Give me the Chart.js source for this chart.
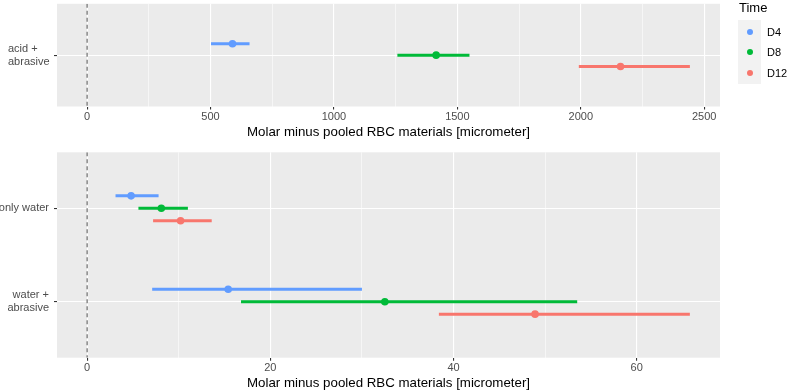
<!DOCTYPE html>
<html>
<head>
<meta charset="utf-8">
<script src="https://cdn.jsdelivr.net/npm/chart.js@4"></script>
<style>
  body { margin: 0; width: 788px; height: 392px; background: #fff; position: relative; overflow: hidden;
         font-family: "Liberation Sans", Arial, sans-serif; }
  canvas { position: absolute; left: 0; }
  #legendTitle { position: absolute; left: 739px; top: 0; font-size: 13px; line-height: 16px; color: #000; }
  #legendKeys { position: absolute; left: 738px; top: 20px; width: 23px; height: 64px; background: #F2F2F2; }
  .key { position: absolute; width: 6px; height: 6px; border-radius: 50%; left: 9px; }
  .keyLabel { position: absolute; left: 767px; font-size: 11px; line-height: 14px; color: #000; }
</style>
</head>
<body>
<canvas id="topChart" width="788" height="140" style="top:0"></canvas>
<canvas id="bottomChart" width="788" height="251" style="top:140px"></canvas>
<div id="legendTitle">Time</div>
<div id="legendKeys"></div>
<script>
// 시간 그룹과 색상
const timeLabels = ['D4', 'D8', 'D12'];
const timeColors = ['#619CFF', '#00BA38', '#F8766D'];

// 위쪽 패널: acid + abrasive (값은 시간별, 범주별)
const topCategories = [['acid +', 'abrasive']];
const topMean  = [[589], [1414], [2161]];
const topLower = [[502], [1257], [1992]];
const topUpper = [[658], [1549], [2442]];
const topMajorTicks = [0, 500, 1000, 1500, 2000, 2500];
const topMinorTicks = [250, 750, 1250, 1750, 2250];
const topRange = [-122, 2564];

// 아래쪽 패널: only water, water + abrasive
const bottomCategories = ['only water', ['water +', 'abrasive']];
const bottomMean  = [[4.8, 15.4], [8.1, 32.5], [10.2, 48.9]];
const bottomLower = [[3.1, 7.1], [5.6, 16.8], [7.2, 38.4]];
const bottomUpper = [[7.8, 30.0], [11.0, 53.5], [13.6, 65.8]];
const bottomMajorTicks = [0, 20, 40, 60];
const bottomMinorTicks = [10, 30, 50];
const bottomRange = [-3.29, 69.09];

const xTitle = 'Molar minus pooled RBC materials [micrometer]';
const dodge = 0.4 / 3; // position_dodge 간격

// 패널 배경, 0 기준 점선, 오차 막대
const panelPlugin = {
    id: 'panel',
    beforeDraw(chart) {
        const { ctx, chartArea: a } = chart;
        ctx.save();
        ctx.fillStyle = '#EBEBEB';
        ctx.fillRect(a.left, a.top, a.right - a.left, a.bottom - a.top);
        ctx.restore();
    },
    beforeDatasetsDraw(chart) {
        const { ctx, chartArea: a, scales: { x, y } } = chart;
        ctx.save();
        ctx.beginPath();
        ctx.rect(a.left, a.top, a.right - a.left, a.bottom - a.top);
        ctx.clip();
        // 0 위치 점선
        const x0 = x.getPixelForValue(0);
        ctx.strokeStyle = '#777';
        ctx.lineWidth = 1.3;
        ctx.setLineDash([4, 3]);
        ctx.beginPath();
        ctx.moveTo(x0, a.top);
        ctx.lineTo(x0, a.bottom);
        ctx.stroke();
        ctx.setLineDash([]);
        // 오차 막대
        chart.data.datasets.forEach(ds => {
            ctx.strokeStyle = ds.backgroundColor;
            ctx.lineWidth = 3;
            ds.data.forEach(p => {
                const py = y.getPixelForValue(p.y);
                ctx.beginPath();
                ctx.moveTo(x.getPixelForValue(p.lo), py);
                ctx.lineTo(x.getPixelForValue(p.hi), py);
                ctx.stroke();
            });
        });
        ctx.restore();
    }
};

function buildDatasets(mean, lower, upper) {
    return timeLabels.map((label, t) => ({
        label: label,
        data: mean[t].map((m, c) => ({
            x: m,
            y: c + 1 + (t - 1) * dodge,
            lo: lower[t][c],
            hi: upper[t][c]
        })),
        backgroundColor: timeColors[t],
        borderColor: timeColors[t],
        pointRadius: 3.8,
        pointBorderWidth: 0,
        pointHoverRadius: 3.8
    }));
}

// 축 라벨 때문에 생기는 여백 제거
function noScalePadding(s) {
    s.paddingTop = 0;
    s.paddingBottom = 0;
    s.paddingLeft = 0;
    s.paddingRight = 0;
}

function makeChart(id, cfg) {
    const ctx = document.getElementById(id).getContext('2d');
    const xTicks = cfg.major.concat(cfg.minor).sort((a, b) => a - b);
    const isMajor = v => cfg.major.includes(v);
    return new Chart(ctx, {
        type: 'scatter',
        data: { datasets: buildDatasets(cfg.mean, cfg.lower, cfg.upper) },
        options: {
            responsive: false,
            animation: false,
            layout: { padding: { left: cfg.padLeft, right: 68, top: cfg.padTop, bottom: 0 } },
            plugins: { legend: { display: false }, tooltip: { enabled: false } },
            scales: {
                x: {
                    type: 'linear',
                    min: cfg.range[0],
                    max: cfg.range[1],
                    afterBuildTicks: s => { s.ticks = xTicks.map(v => ({ value: v })); },
                    afterFit: s => { s.height = cfg.xHeight; noScalePadding(s); },
                    border: { display: false },
                    grid: {
                        color: '#ffffff',
                        lineWidth: c => (c.tick && isMajor(c.tick.value)) ? 1.1 : 0.55,
                        tickColor: c => (c.tick && isMajor(c.tick.value)) ? '#333333' : 'rgba(0,0,0,0)',
                        tickLength: 3
                    },
                    ticks: {
                        autoSkip: false,
                        maxRotation: 0,
                        padding: 1,
                        color: '#4D4D4D',
                        font: { family: '"Liberation Sans", Arial, sans-serif', size: 11 },
                        callback: v => isMajor(v) ? String(v) : ''
                    },
                    title: {
                        display: true,
                        text: xTitle,
                        color: '#000000',
                        font: { family: '"Liberation Sans", Arial, sans-serif', size: 13.3 },
                        padding: { top: 0, bottom: 0 }
                    }
                },
                y: {
                    type: 'linear',
                    reverse: true,
                    min: 0.4,
                    max: cfg.categories.length + 0.6,
                    afterBuildTicks: s => { s.ticks = cfg.categories.map((c, i) => ({ value: i + 1 })); },
                    afterFit: s => { s.width = 57 - cfg.padLeft; noScalePadding(s); },
                    border: { display: false },
                    grid: { color: '#ffffff', lineWidth: 1.1, tickColor: '#333333', tickLength: 3 },
                    ticks: {
                        autoSkip: false,
                        crossAlign: cfg.crossAlign,
                        padding: 5,
                        color: '#4D4D4D',
                        font: { family: '"Liberation Sans", Arial, sans-serif', size: 11, lineHeight: 1.2 },
                        callback: v => cfg.categories[Math.round(v) - 1]
                    }
                }
            }
        },
        plugins: [panelPlugin]
    });
}

makeChart('topChart', {
    mean: topMean, lower: topLower, upper: topUpper,
    categories: topCategories, major: topMajorTicks, minor: topMinorTicks,
    range: topRange, padLeft: 8, padTop: 3, xHeight: 33.5, crossAlign: 'far'
});

makeChart('bottomChart', {
    mean: bottomMean, lower: bottomLower, upper: bottomUpper,
    categories: bottomCategories, major: bottomMajorTicks, minor: bottomMinorTicks,
    range: bottomRange, padLeft: 0, padTop: 12.3, xHeight: 33.3, crossAlign: 'near'
});

// 범례 (Time)
const keyBox = document.getElementById('legendKeys');
const keyY = [32.3, 52.3, 73];
timeLabels.forEach((label, i) => {
    const dot = document.createElement('div');
    dot.className = 'key';
    dot.style.background = timeColors[i];
    dot.style.top = (keyY[i] - 20 - 3) + 'px';
    keyBox.appendChild(dot);
    const txt = document.createElement('div');
    txt.className = 'keyLabel';
    txt.textContent = label;
    txt.style.top = (keyY[i] - 7) + 'px';
    document.body.appendChild(txt);
});
</script>
</body>
</html>
